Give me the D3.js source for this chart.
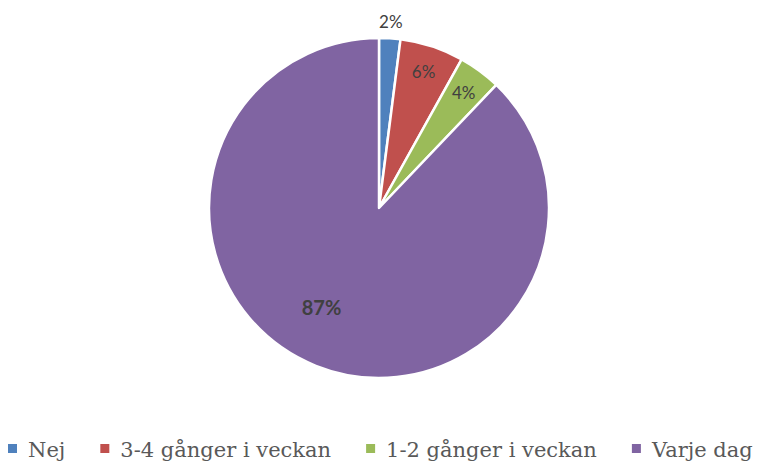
<!DOCTYPE html>
<html><head><meta charset="utf-8">
<script src="https://cdn.jsdelivr.net/npm/d3@7"></script>
<style>body{margin:0;background:#fff}svg{display:block}</style>
</head><body>
<svg id="c" width="758" height="462"></svg>
<script>
const categories = ["Nej", "3-4 gånger i veckan", "1-2 gånger i veckan", "Varje dag"];
const values = [2, 6, 4, 87];
const labels = ["2%", "6%", "4%", "87%"];
const colors = ["#4F81BD", "#C0504D", "#9BBB59", "#8064A2"];

const svg = d3.select("#c");
const cx = 379, cy = 208, R = 170;

const pie = d3.pie().sort(null).startAngle(0).endAngle(2 * Math.PI);
const arcs = pie(values);
const arc = d3.arc().innerRadius(0).outerRadius(R);
const g = svg.append("g").attr("transform", `translate(${cx},${cy})`);

g.selectAll("path").data(arcs).join("path")
  .attr("d", arc)
  .attr("fill", (d, i) => colors[i])
  .attr("stroke", "#fff")
  .attr("stroke-width", 2.5)
  .attr("stroke-linejoin", "round");

function labelPos(d, i) {
  const mid = (d.startAngle + d.endAngle) / 2;
  let r, a = mid;
  if (i === 0) r = R * 1.095;
  else if (i === 3) { r = R * 0.68; a = mid + 0.14; }
  else r = R * 0.84;
  return [Math.sin(a) * r, -Math.cos(a) * r];
}
g.selectAll("text").data(arcs).join("text")
  .attr("transform", (d, i) => `translate(${labelPos(d, i)})`)
  .attr("text-anchor", "middle")
  .attr("dy", "0.35em")
  .attr("font-family", "Lato, 'Open Sans', sans-serif")
  .attr("font-size", (d, i) => i === 3 ? 20 : 17)
  .attr("font-weight", (d, i) => i === 3 ? "bold" : "normal")
  .attr("fill", "#404040")
  .text((d, i) => labels[i]);

const leg = svg.append("g");
let x = 8;
const ly = 457;
categories.forEach((c, i) => {
  leg.append("rect").attr("x", x).attr("y", ly - 13).attr("width", 9).attr("height", 9).attr("fill", colors[i]);
  const t = leg.append("text").attr("x", x + 20).attr("y", ly)
    .attr("font-family", "'DejaVu Serif', serif").attr("font-size", 21).attr("fill", "#595959")
    .text(c);
  x += 20 + t.node().getComputedTextLength() + 35;
});
</script>
</body></html>
